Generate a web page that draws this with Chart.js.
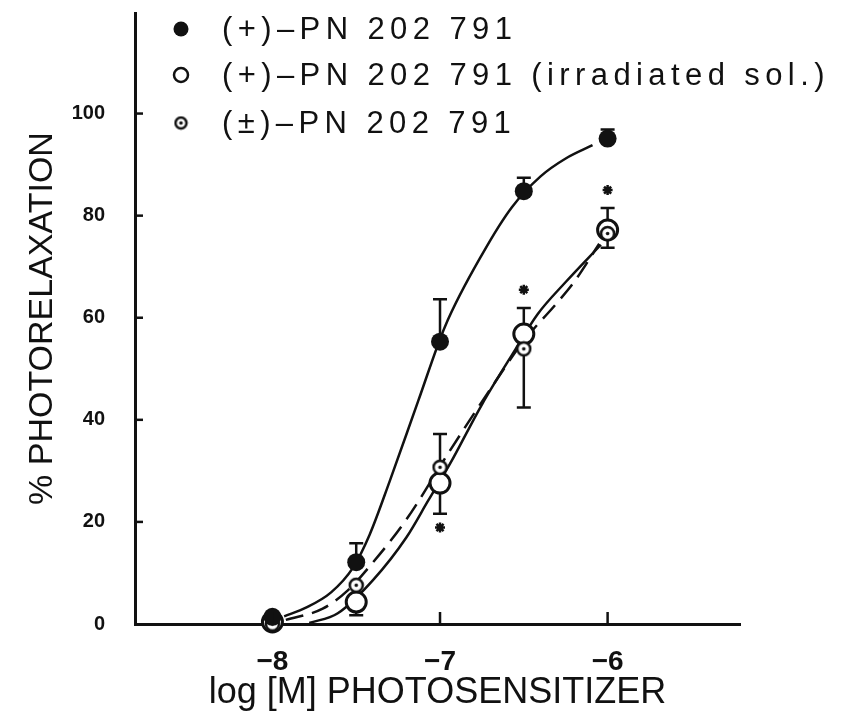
<!DOCTYPE html>
<html>
<head>
<meta charset="utf-8">
<script src="https://cdn.jsdelivr.net/npm/chart.js@4.4.1/dist/chart.umd.min.js"></script>
<style>
    html, body { margin: 0; padding: 0; background: #fff; }
</style>
</head>
<body>
<canvas id="photoChart" width="843" height="719"></canvas>
<script>
// --- Data ---
const doses = [-8, -7.5, -7, -6.5, -6];       // log [M]
const xTicks = [-8, -7, -6];
const yTicks = [0, 20, 40, 60, 80, 100];

// (+)-PN 202 791
const activeMean = [1.4, 12.1, 55.3, 84.8, 95.1];
const activeHigh = [null, 15.8, 63.6, 87.4, 96.9];
const activeLow = [null, null, null, null, null];

// (+)-PN 202 791 (irradiated sol.)
const irradMean = [0.4, 4.3, 27.6, 56.8, 77.2];
const irradHigh = [null, null, null, 61.9, null];
const irradLow = [null, 1.7, 21.6, null, 73.7];

// (±)-PN 202 791
const racemicMean = [0, 7.6, 30.7, 53.9, 76.5];
const racemicHigh = [null, null, 37.2, null, 81.5];
const racemicLow = [null, null, null, 42.4, null];

// significance marks (*)
const starX = [-7, -6.5, -6];
const starY = [18.9, 65.5, 85];

// fitted curves
const activeCurveX = [-7.93, -7.8, -7.65, -7.52, -7.42, -7.3, -7.13, -6.97, -6.74, -6.57, -6.4, -6.25, -6.09];
const activeCurveY = [1.5, 3.2, 6.2, 11, 17.5, 28, 43.7, 58.3, 72.9, 81.7, 87.7, 91.2, 93.8];
const irradCurveX = [-7.78, -7.61, -7.4, -7.2, -7.07, -6.94, -6.75, -6.55, -6.42, -6.25, -6.04];
const irradCurveY = [0.2, 2.1, 8.6, 17, 24.2, 31.4, 43, 53.8, 60.6, 67, 74.3];
const racemicCurveX = [-7.92, -7.7, -7.55, -7.42, -7.2, -6.95, -6.7, -6.5, -6.31, -6.2, -6.05];
const racemicCurveY = [0.8, 3, 6.6, 11.3, 20.5, 33.5, 46, 55.5, 62.6, 67, 74.5];

const legendLabels = ['(+)\u2013PN 202 791', '(+)\u2013PN 202 791 (irradiated sol.)', '(\u00b1)\u2013PN 202 791'];

const INK = '#111';

function toPoints(xs, ys) {
    return xs.map((x, i) => ({ x: x, y: ys[i] }));
}

// small circle with a dot in the middle
function dottedMarker(r) {
    const size = Math.ceil(r * 2 + 4);
    const c = document.createElement('canvas');
    c.width = size;
    c.height = size;
    const g = c.getContext('2d');
    g.fillStyle = '#fff';
    g.strokeStyle = INK;
    g.lineWidth = 2.5;
    g.beginPath();
    g.arc(size / 2, size / 2, r, 0, Math.PI * 2);
    g.fill();
    g.stroke();
    g.fillStyle = INK;
    g.beginPath();
    g.arc(size / 2, size / 2, 1.8, 0, Math.PI * 2);
    g.fill();
    return c;
}

const dotMark = dottedMarker(6.5);
const dotMarkSmall = dottedMarker(5.5);

const errorSets = [
    { mean: activeMean, high: activeHigh, low: activeLow },
    { mean: irradMean, high: irradHigh, low: irradLow },
    { mean: racemicMean, high: racemicHigh, low: racemicLow }
];

// Error bars go under the markers
const errorBarPlugin = {
    id: 'errorBars',
    beforeDatasetsDraw(chart) {
        const { ctx, scales: { x, y } } = chart;
        ctx.save();
        ctx.strokeStyle = INK;
        ctx.lineWidth = 2.5;
        errorSets.forEach(set => {
            doses.forEach((d, i) => {
                const px = x.getPixelForValue(d);
                const py = y.getPixelForValue(set.mean[i]);
                [set.high[i], set.low[i]].forEach(v => {
                    if (v === null) return;
                    const ey = y.getPixelForValue(v);
                    ctx.beginPath();
                    ctx.moveTo(px, py);
                    ctx.lineTo(px, ey);
                    ctx.moveTo(px - 7, ey);
                    ctx.lineTo(px + 7, ey);
                    ctx.stroke();
                });
            });
        });
        ctx.restore();
    }
};

// Tick marks point into the plot in the original
const innerTicksPlugin = {
    id: 'innerTicks',
    afterDraw(chart) {
        const { ctx, chartArea, scales: { x, y } } = chart;
        ctx.save();
        ctx.strokeStyle = INK;
        ctx.lineWidth = 2.5;
        yTicks.forEach(v => {
            if (v === 0) return;
            const py = y.getPixelForValue(v);
            ctx.beginPath();
            ctx.moveTo(chartArea.left, py);
            ctx.lineTo(chartArea.left + 8, py);
            ctx.stroke();
        });
        xTicks.forEach(v => {
            const px = x.getPixelForValue(v);
            ctx.beginPath();
            ctx.moveTo(px, chartArea.bottom);
            ctx.lineTo(px, chartArea.bottom - 12);
            ctx.stroke();
        });
        ctx.restore();
    }
};

// Legend sits inside the plot, top left
const legendPlugin = {
    id: 'innerLegend',
    afterDraw(chart) {
        const { ctx, chartArea } = chart;
        const mx = chartArea.left + 46;
        const tx = chartArea.left + 87;
        const rows = [chartArea.top + 16, chartArea.top + 62, chartArea.top + 110];
        ctx.save();
        // filled
        ctx.fillStyle = INK;
        ctx.beginPath();
        ctx.arc(mx, rows[0], 7.5, 0, Math.PI * 2);
        ctx.fill();
        // open
        ctx.strokeStyle = INK;
        ctx.lineWidth = 2.5;
        ctx.beginPath();
        ctx.arc(mx, rows[1], 7, 0, Math.PI * 2);
        ctx.stroke();
        // dotted
        ctx.drawImage(dotMarkSmall, mx - dotMarkSmall.width / 2, rows[2] - dotMarkSmall.height / 2);

        ctx.font = '31px "Liberation Sans", Arial, sans-serif';
        ctx.textBaseline = 'middle';
        ctx.textAlign = 'left';
        ctx.letterSpacing = '5.4px';
        legendLabels.forEach((t, i) => ctx.fillText(t, tx, rows[i] + 1));
        ctx.letterSpacing = '0px';
        ctx.restore();
    }
};

const ctx = document.getElementById('photoChart').getContext('2d');

new Chart(ctx, {
    type: 'scatter',
    data: {
        datasets: [
            // fitted curves
            {
                label: 'fit (+)',
                data: toPoints(activeCurveX, activeCurveY),
                showLine: true,
                borderColor: INK,
                borderWidth: 2.5,
                pointRadius: 0,
                cubicInterpolationMode: 'monotone',
                order: 5
            },
            {
                label: 'fit irradiated',
                data: toPoints(irradCurveX, irradCurveY),
                showLine: true,
                borderColor: INK,
                borderWidth: 2.5,
                pointRadius: 0,
                cubicInterpolationMode: 'monotone',
                order: 5
            },
            {
                label: 'fit (±)',
                data: toPoints(racemicCurveX, racemicCurveY),
                showLine: true,
                borderColor: INK,
                borderWidth: 2.5,
                borderDash: [18, 9],
                pointRadius: 0,
                cubicInterpolationMode: 'monotone',
                order: 5
            },
            // markers
            {
                label: legendLabels[1],
                data: toPoints(doses, irradMean),
                pointRadius: 10,
                borderWidth: 3,
                borderColor: INK,
                backgroundColor: '#fff',
                order: 3
            },
            {
                label: legendLabels[2],
                data: toPoints(doses, racemicMean),
                pointStyle: dotMark,
                order: 2
            },
            {
                label: legendLabels[0],
                data: toPoints(doses, activeMean),
                pointRadius: 9,
                borderWidth: 0,
                backgroundColor: INK,
                order: 1
            },
            {
                label: '*',
                data: toPoints(starX, starY),
                pointStyle: 'star',
                pointRadius: 5,
                borderWidth: 2.5,
                borderColor: INK,
                order: 1
            }
        ]
    },
    options: {
        responsive: false,
        animation: false,
        events: [],
        clip: false,
        layout: { padding: { left: 0, top: 10, right: 103, bottom: 0 } },
        plugins: {
            legend: { display: false },
            tooltip: { enabled: false }
        },
        scales: {
            x: {
                type: 'linear',
                min: -8.82,
                max: -5.21,
                afterBuildTicks: scale => { scale.ticks = xTicks.map(v => ({ value: v })); },
                afterFit: scale => {
                    scale.height = 95;
                    scale.paddingLeft = 0;
                    scale.paddingRight = 0;
                },
                grid: { display: false, drawTicks: false },
                border: { display: true, width: 3, color: INK },
                ticks: {
                    padding: 21,
                    color: INK,
                    font: { family: '"Liberation Sans", Arial, sans-serif', size: 28, weight: 'bold' },
                    callback: v => '\u2212' + Math.abs(v)
                },
                title: {
                    display: true,
                    text: 'log [M] PHOTOSENSITIZER',
                    color: INK,
                    font: { family: '"Liberation Sans", Arial, sans-serif', size: 36 },
                    padding: { top: 0, bottom: 4 }
                }
            },
            y: {
                type: 'linear',
                min: 0,
                max: 119.7,
                afterBuildTicks: scale => { scale.ticks = yTicks.map(v => ({ value: v })); },
                afterFit: scale => {
                    scale.width = 135;
                    scale.paddingTop = 0;
                    scale.paddingBottom = 0;
                },
                grid: { display: false, drawTicks: false },
                border: { display: true, width: 3, color: INK },
                ticks: {
                    padding: 30,
                    color: INK,
                    font: { family: '"Liberation Sans", Arial, sans-serif', size: 20, weight: 'bold' }
                },
                title: {
                    display: true,
                    text: '% PHOTORELAXATION',
                    color: INK,
                    font: { family: '"Liberation Sans", Arial, sans-serif', size: 34 },
                    padding: { top: 22, bottom: 0 }
                }
            }
        }
    },
    plugins: [errorBarPlugin, innerTicksPlugin, legendPlugin]
});
</script>
</body>
</html>
